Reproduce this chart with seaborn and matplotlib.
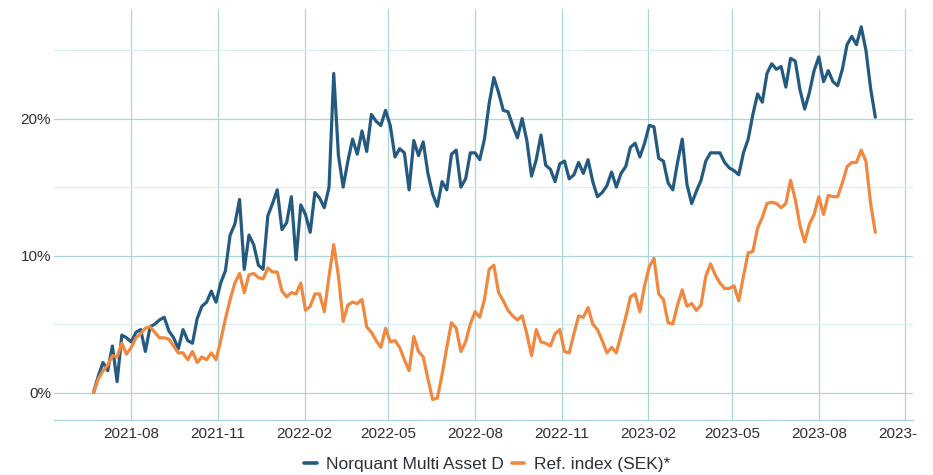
import pandas as pd
import seaborn as sns
import matplotlib.pyplot as plt
import matplotlib.dates as mdates
from matplotlib.ticker import PercentFormatter, MultipleLocator
from matplotlib.transforms import Bbox, TransformedBbox, IdentityTransform

# one value every 5 days (cumulative return, %)
dates = pd.date_range('2021-06-22', periods=167, freq='5D')

fund = [
    0.0, 1.2, 2.2, 1.6, 3.4, 0.8, 4.2, 4.0, 3.7, 4.4,
    4.6, 3.0, 4.8, 5.0, 5.3, 5.5, 4.5, 4.0, 3.2, 4.6,
    3.8, 3.6, 5.4, 6.3, 6.6, 7.4, 6.6, 8.0, 8.9, 11.5,
    12.3, 14.1, 9.0, 11.5, 10.8, 9.3, 9.0, 12.9, 13.8, 14.8,
    11.9, 12.4, 14.3, 9.7, 13.7, 13.0, 11.7, 14.6, 14.2, 13.5,
    15.0, 23.3, 17.3, 15.0, 16.9, 18.5, 17.4, 19.1, 17.6, 20.3,
    19.8, 19.5, 20.6, 19.5, 17.2, 17.8, 17.5, 14.8, 18.4, 17.3,
    18.3, 16.0, 14.5, 13.6, 15.4, 14.8, 17.4, 17.7, 15.0, 15.6,
    17.5, 17.5, 17.0, 18.5, 21.1, 23.0, 21.9, 20.6, 20.5, 19.5,
    18.6, 20.0, 18.4, 15.8, 17.0, 18.8, 16.6, 16.3, 15.4, 16.7,
    16.9, 15.6, 15.9, 16.8, 16.0, 17.0, 15.4, 14.3, 14.6, 15.1,
    16.1, 15.0, 16.0, 16.5, 17.9, 18.2, 17.2, 18.2, 19.5, 19.4,
    17.1, 16.9, 15.3, 14.8, 16.8, 18.5, 15.2, 13.8, 14.7, 15.5,
    16.9, 17.5, 17.5, 17.5, 16.8, 16.4, 16.2, 15.9, 17.5, 18.5,
    20.3, 21.8, 21.2, 23.3, 24.0, 23.6, 23.8, 22.3, 24.4, 24.2,
    22.1, 20.7, 21.9, 23.5, 24.5, 22.7, 23.5, 22.7, 22.4, 23.6,
    25.4, 26.0, 25.4, 26.7, 25.0, 22.2, 20.1,
]

ref_index = [
    0.0, 1.0, 1.6, 2.0, 2.7, 2.6, 3.6, 2.8, 3.3, 4.0,
    4.3, 4.7, 4.8, 4.4, 4.0, 4.0, 3.9, 3.4, 2.9, 2.9,
    2.4, 3.0, 2.2, 2.6, 2.4, 2.9, 2.4, 3.8, 5.4, 6.8,
    8.0, 8.7, 7.3, 8.6, 8.7, 8.4, 8.3, 9.1, 8.8, 8.8,
    7.4, 7.0, 7.3, 7.2, 8.0, 6.0, 6.3, 7.2, 7.2, 5.9,
    8.5, 10.8, 8.5, 5.2, 6.4, 6.6, 6.5, 6.8, 4.8, 4.4,
    3.8, 3.3, 4.7, 3.7, 3.8, 3.3, 2.4, 1.6, 4.1, 3.0,
    2.6, 1.0, -0.5, -0.4, 1.3, 3.3, 5.1, 4.7, 3.0, 3.7,
    5.0, 5.9, 5.5, 6.8, 9.0, 9.3, 7.3, 6.7, 6.0, 5.6,
    5.3, 5.6, 4.3, 2.7, 4.6, 3.7, 3.6, 3.4, 4.3, 4.6,
    3.0, 2.9, 4.3, 5.6, 5.5, 6.2, 5.0, 4.6, 3.8, 2.9,
    3.3, 2.9, 4.2, 5.5, 7.0, 7.2, 5.9, 7.8, 9.2, 9.8,
    7.2, 6.8, 5.1, 5.0, 6.4, 7.5, 6.3, 6.5, 6.0, 6.4,
    8.5, 9.4, 8.6, 8.0, 7.6, 7.6, 7.8, 6.7, 8.5, 10.2,
    10.3, 12.0, 12.8, 13.8, 13.9, 13.8, 13.5, 13.8, 15.5, 14.1,
    12.2, 11.0, 12.3, 13.0, 14.3, 13.0, 14.4, 14.3, 14.3, 15.3,
    16.5, 16.8, 16.8, 17.7, 16.9, 13.8, 11.7,
]

series_names = ['Norquant Multi Asset D', 'Ref. index (SEK)*']
colors = ['#255a80', '#f0883f']
grid_major = '#aad6d8'
grid_minor = '#d8eeef'
text_color = '#2b2f3a'

df = pd.concat([
    pd.DataFrame({'Date': dates, 'Return': fund, 'Series': series_names[0]}),
    pd.DataFrame({'Date': dates, 'Return': ref_index, 'Series': series_names[1]}),
])

sns.set_style('white')
plt.rcParams['font.family'] = ['Liberation Sans', 'DejaVu Sans']

fig = plt.figure(figsize=(9.33, 4.75), dpi=100)
ax = fig.add_axes([54 / 933, 1 - 420 / 475, (913 - 54) / 933, (420 - 9) / 475])

sns.lineplot(data=df, x='Date', y='Return', hue='Series', palette=colors,
             linewidth=2.3, ax=ax, legend=False)

ax.set_xlim(pd.Timestamp('2021-05-11'), pd.Timestamp('2023-11-09'))
ax.set_ylim(-2, 28)

ax.xaxis.set_major_locator(mdates.MonthLocator(bymonth=[2, 5, 8, 11]))
ax.xaxis.set_major_formatter(mdates.DateFormatter('%Y-%m'))
ax.yaxis.set_major_locator(MultipleLocator(10))
ax.yaxis.set_minor_locator(MultipleLocator(5))
ax.yaxis.set_major_formatter(PercentFormatter(decimals=0))

ax.grid(which='major', axis='both', color=grid_major, linewidth=0.9)
ax.grid(which='minor', axis='y', color=grid_minor, linewidth=0.9)
ax.set_axisbelow(True)

for s in ['top', 'right', 'left']:
    ax.spines[s].set_visible(False)
ax.spines['bottom'].set_color(grid_major)
ax.spines['bottom'].set_linewidth(0.9)

ax.tick_params(axis='both', which='both', length=0, labelsize=11, colors=text_color)
ax.tick_params(axis='y', pad=2)
ax.tick_params(axis='x', pad=5)
ax.set_xlabel('')
ax.set_ylabel('')

# the last date label is cut off at the right edge in the original
fig.canvas.draw()
clip = TransformedBbox(Bbox([[0, 0], [918, 475]]), IdentityTransform())
for lbl in ax.get_xticklabels():
    lbl.set_clip_box(clip)
    lbl.set_clip_on(True)

handles = [plt.Line2D([], [], color=c, linewidth=2.6) for c in colors]
fig.legend(handles, series_names, loc='lower center', bbox_to_anchor=(0.522, -0.027),
           ncol=2, frameon=False, fontsize=12.5, handlelength=0.72,
           handletextpad=0.55, columnspacing=0.45, labelcolor=text_color)

fig.savefig('out.png', dpi=100)
